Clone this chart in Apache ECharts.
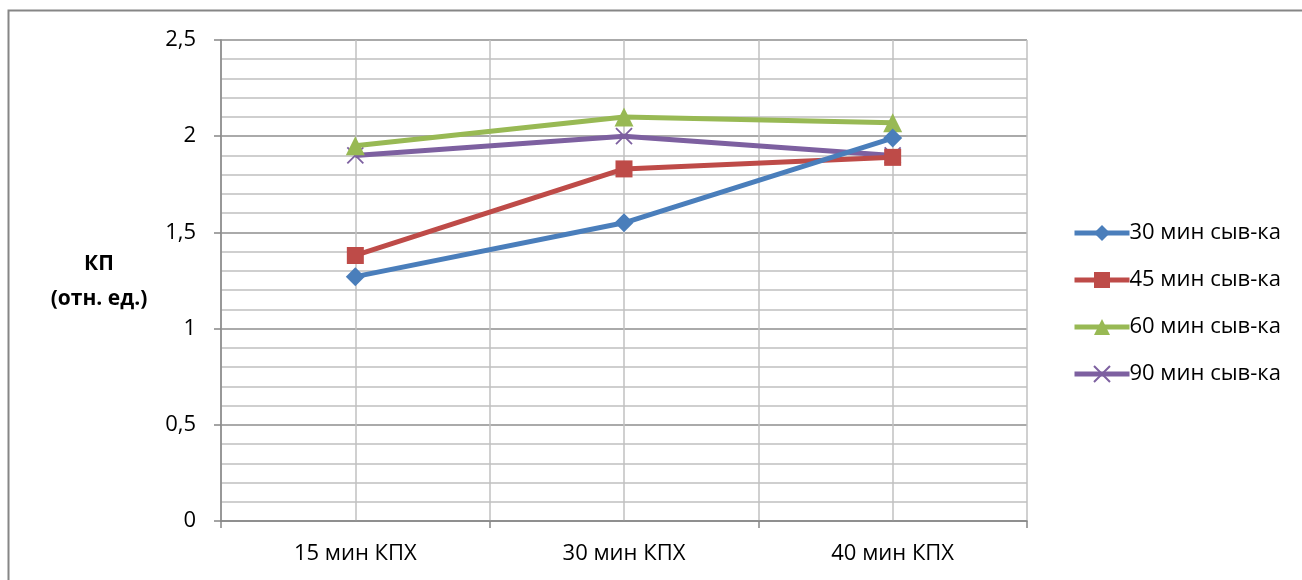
<!DOCTYPE html>
<html>
<head>
<meta charset="utf-8">
<script src="https://cdn.jsdelivr.net/npm/echarts@6/dist/echarts.min.js"></script>
<style>html,body{margin:0;padding:0;background:#fff}#c{width:1302px;height:580px}</style>
</head>
<body>
<div id="c"></div>
<script>
const categories = ['15 мин КПХ', '30 мин КПХ', '40 мин КПХ'];
const seriesNames = ['30 мин сыв-ка', '45 мин сыв-ка', '60 мин сыв-ка', '90 мин сыв-ка'];
const s30 = [1.27, 1.55, 1.99];
const s45 = [1.38, 1.83, 1.89];
const s60 = [1.95, 2.10, 2.07];
const s90 = [1.90, 2.00, 1.90];
const yTicks = ['0', '0,5', '1', '1,5', '2', '2,5'];

const FONT = '"Open Sans", "Noto Sans", sans-serif';
const colors = ['#4A7EBB', '#BE4B48', '#98B954', '#7D60A0'];
const symbols = ['diamond', 'rect', 'triangle', 'path://M0,0L10,10M10,0L0,10'];
const sizes = [19, 17, 19, 16];
const data = [s30, s45, s60, s90];

const chart = echarts.init(document.getElementById('c'), null, {renderer: 'canvas'});
chart.setOption({
  animation: false,
  backgroundColor: '#fff',
  grid: {left: 221, right: 275, top: 40, bottom: 59, containLabel: false},
  legend: {
    orient: 'vertical', left: 1067, top: 215,
    itemGap: 21, itemWidth: 55, itemHeight: 20,
    lineStyle: {width: 5},
    textStyle: {fontFamily: FONT, fontSize: 22, lineHeight: 26, color: '#000', padding: [0, 0, 0, -5]},
    data: seriesNames
  },
  xAxis: [{
    type: 'category', data: categories, boundaryGap: true,
    axisLine: {lineStyle: {color: '#868686', width: 1.5}},
    axisTick: {show: true, length: 7, lineStyle: {color: '#868686', width: 1.5}},
    axisLabel: {fontFamily: FONT, fontSize: 22, color: '#000', margin: 22},
    splitLine: {show: false}
  }, {
    type: 'value', min: 0, max: 3, interval: 0.5, position: 'bottom',
    axisLine: {show: false}, axisTick: {show: false}, axisLabel: {show: false},
    splitLine: {show: true, lineStyle: {color: '#C0C0C0', width: 1.5}}
  }],
  yAxis: {
    type: 'value', min: 0, max: 2.5, interval: 0.5,
    axisLine: {show: true, lineStyle: {color: '#868686', width: 1.5}},
    axisTick: {show: true, length: 7, lineStyle: {color: '#868686', width: 1.5}},
    axisLabel: {fontFamily: FONT, fontSize: 22, color: '#000', margin: 25,
      formatter: v => yTicks[Math.round(v * 2)]},
    splitLine: {show: true, lineStyle: {color: '#8E8E8E', width: 1.5}},
    minorTick: {show: false, splitNumber: 5},
    minorSplitLine: {show: true, lineStyle: {color: '#C0C0C0', width: 1.5}}
  },
  graphic: [
    {type: 'rect', shape: {x: 8.5, y: 10.5, width: 1400, height: 700}, style: {fill: 'none', stroke: '#868686', lineWidth: 2}, silent: true},
    {type: 'text', x: 99, y: 247, style: {text: 'КП\n(отн. ед.)', fontFamily: FONT, fontSize: 21, fontWeight: 'bold', fill: '#000', align: 'center', lineHeight: 35}}
  ],
  series: data.map((d, i) => ({
    name: seriesNames[i], type: 'line', data: d, xAxisIndex: 0,
    symbol: symbols[i], symbolSize: sizes[i],
    showAllSymbol: true,
    lineStyle: {color: colors[i], width: 5},
    itemStyle: i === 3 ? {color: colors[i], borderColor: colors[i], borderWidth: 1.8} : {color: colors[i]},
    z: 10 - i
  }))
});
</script>
</body>
</html>
